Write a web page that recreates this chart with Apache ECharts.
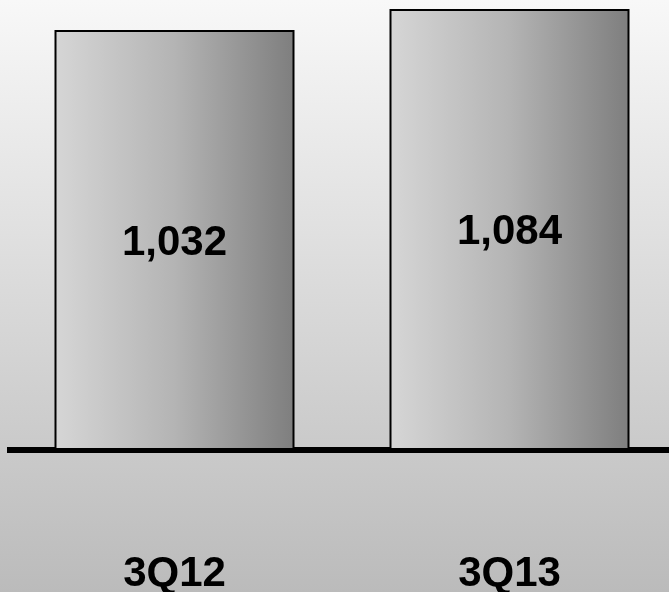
<!DOCTYPE html>
<html>
<head>
<meta charset="utf-8">
<script src="https://cdn.jsdelivr.net/npm/echarts@6/dist/echarts.min.js"></script>
<style>
  html, body { margin: 0; padding: 0; }
  #chart { width: 669px; height: 592px; }
</style>
</head>
<body>
<div id="chart"></div>
<script>
  // 数据
  var quarters = ['3Q12', '3Q13'];
  var values = [1032, 1084];

  var option = {
    animation: false,
    backgroundColor: new echarts.graphic.LinearGradient(0, 0, 0, 1, [
      { offset: 0, color: '#f8f8f8' },
      { offset: 1, color: '#bbbbbb' }
    ]),
    grid: {
      left: 7,
      width: 670,
      top: 0,
      bottom: 142,
      outerBoundsMode: 'none',
      containLabel: false
    },
    xAxis: {
      type: 'category',
      data: quarters,
      offset: 3,
      axisTick: { show: false },
      axisLine: {
        lineStyle: { color: '#000', width: 6, cap: 'butt' }
      },
      axisLabel: {
        margin: 100,
        color: '#000',
        fontSize: 42,
        fontWeight: 'bold',
        fontFamily: 'Liberation Sans, Arial, sans-serif'
      }
    },
    yAxis: {
      type: 'value',
      min: 0,
      max: 1106,
      show: false,
      splitLine: { show: false }
    },
    series: [
      {
        type: 'bar',
        data: values,
        barWidth: 240,
        itemStyle: {
          color: new echarts.graphic.LinearGradient(0, 0, 1, 0, [
            { offset: 0, color: '#d6d6d6' },
            { offset: 0.5, color: '#b4b4b4' },
            { offset: 1, color: '#7e7e7e' }
          ]),
          borderColor: '#000',
          borderWidth: 2
        },
        label: {
          show: true,
          position: 'inside',
          offset: [0, 3],
          color: '#000',
          fontSize: 42,
          fontWeight: 'bold',
          fontFamily: 'Liberation Sans, Arial, sans-serif',
          formatter: function (p) {
            return p.value.toLocaleString('en-US');
          }
        }
      }
    ]
  };

  echarts.init(document.getElementById('chart')).setOption(option);
</script>
</body>
</html>
